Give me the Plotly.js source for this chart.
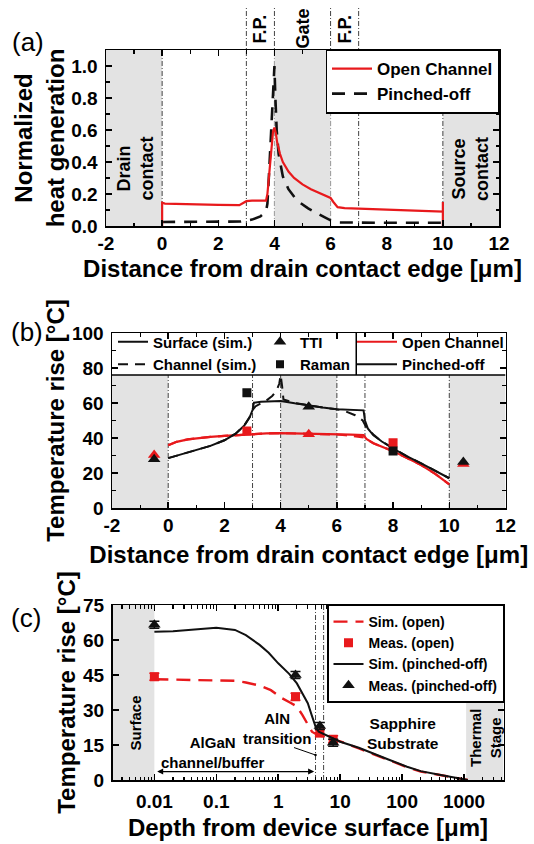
<!DOCTYPE html>
<html><head><meta charset="utf-8">
<script src="https://cdn.plot.ly/plotly-3.0.1.min.js"></script>
<style>html,body{margin:0;padding:0;background:#fff}</style>
</head><body><div id="chart" style="width:534px;height:844px"></div>
<script>
// ---------- Panel (a): normalized heat generation ----------
const a_open_x  = [0, 0, 0.1, 1, 2, 2.75, 3.0, 3.2, 3.7, 3.75, 3.8, 3.85, 3.9, 3.95, 4.0, 4.05, 4.1, 4.2, 4.3, 4.5, 4.7, 5.0, 5.3, 5.6, 5.9, 6.0, 6.1, 6.25, 6.5, 7, 8, 9, 10, 10, 10];
const a_open_y  = [0, 0.145, 0.14, 0.135, 0.132, 0.13, 0.155, 0.158, 0.158, 0.2, 0.3, 0.42, 0.52, 0.59, 0.615, 0.58, 0.52, 0.45, 0.4, 0.34, 0.3, 0.26, 0.23, 0.205, 0.185, 0.175, 0.15, 0.118, 0.112, 0.108, 0.102, 0.096, 0.09, 0.15, 0.0];
const a_pinch_x = [0, 1, 2, 2.8, 3.2, 3.5, 3.7, 3.75, 3.8, 3.85, 3.9, 3.95, 3.98, 4.0, 4.03, 4.08, 4.15, 4.3, 4.5, 4.8, 5.2, 5.6, 6.0, 6.3, 7, 8, 9, 10];
const a_pinch_y = [0.025, 0.025, 0.025, 0.028, 0.04, 0.06, 0.09, 0.14, 0.3, 0.5, 0.68, 0.86, 0.95, 1.0, 0.82, 0.6, 0.45, 0.31, 0.23, 0.16, 0.11, 0.07, 0.035, 0.022, 0.02, 0.02, 0.02, 0.02];

// ---------- Panel (b): temperature rise vs. distance ----------
const b_open_surf_x  = [0, 0.3, 0.7, 1, 1.5, 2, 2.5, 3, 3.5, 4, 4.5, 5, 5.5, 6, 6.5, 6.95, 7.05, 7.3, 7.6, 8, 8.5, 9, 9.5, 10];
const b_open_surf_y  = [35.8, 37.8, 39.2, 39.8, 40.6, 41.2, 41.7, 42.3, 42.6, 42.8, 42.7, 42.5, 42.3, 42.1, 41.9, 41.7, 39.5, 37, 35, 32.5, 28.5, 24.5, 19.5, 13.5];
const b_open_chan_x  = [0, 0.3, 0.7, 1, 1.5, 2, 2.5, 3, 3.5, 4, 4.5, 5, 5.5, 6, 6.3, 6.6, 6.95, 7.05, 7.3, 7.6, 8, 8.5, 9, 9.5, 10];
const b_open_chan_y  = [35.8, 37.8, 39.2, 39.8, 40.6, 41.2, 41.7, 42.3, 42.6, 42.8, 42.7, 42.5, 42.3, 42.0, 41.6, 41.0, 40.4, 39.3, 37, 35, 32.5, 28.5, 24.5, 19.5, 13.5];
const b_pin_surf_x   = [0, 0.5, 1, 1.5, 2, 2.4, 2.7, 2.9, 3.0, 3.05, 3.3, 3.6, 4, 4.5, 5, 5.5, 6, 6.5, 6.95, 7.0, 7.1, 7.3, 7.6, 8, 8.5, 9, 9.5, 10];
const b_pin_surf_y   = [28.5, 30.8, 33, 35.5, 38.7, 42.5, 47, 52, 56, 60.2, 60.7, 61, 61.2, 59.8, 58.5, 57.4, 56.5, 56, 55.8, 50, 45.5, 41.5, 38, 34, 29.5, 25.5, 21.3, 17];
const b_pin_chan_x   = [0, 0.5, 1, 1.5, 2, 2.4, 2.7, 2.9, 2.95, 3.1, 3.3, 3.5, 3.7, 3.85, 3.95, 4.0, 4.05, 4.1, 4.5, 5, 5.5, 6, 6.3, 6.65, 6.92, 7.05, 7.3, 7.6, 8, 8.5, 9, 9.5, 10];
const b_pin_chan_y   = [28.5, 30.8, 33, 35.5, 38.7, 42.5, 47, 52, 55, 58, 59.8, 61.5, 64, 67, 71, 76, 70, 62, 60, 58.5, 57.4, 56.4, 55.3, 53, 50, 46, 42, 38, 34, 29.5, 25.5, 21.3, 17];
const b_tti_x        = [-0.5, 5, 10.5];
const b_tti_open_y   = [30.3, 42.1, 25.1];
const b_tti_pin_y    = [27.8, 57.9, 26.3];
const b_raman_x      = [2.8, 8];
const b_raman_open_y = [44, 37.3];
const b_raman_pin_y  = [65.9, 32.6];
const b_raman_err    = [1.5, 1.5];

// ---------- Panel (c): temperature rise vs. depth ----------
const c_sim_open_x = [0.01, 0.03, 0.1, 0.2, 0.3, 0.5, 0.76, 1.16, 1.6, 2.0, 2.45, 3.0, 3.5, 4.3, 5.5, 10, 20, 35, 60, 120, 200, 420, 770, 1150];
const c_sim_open_y = [43.2, 43.0, 42.9, 42.5, 41.8, 40.5, 38.5, 35, 33, 31.5, 27.9, 24, 20.7, 19.3, 18.5, 16.6, 13.5, 11, 8.5, 5.5, 3.6, 2.0, 0.6, 0];
const c_sim_pin_x  = [0.01, 0.02, 0.05, 0.1, 0.2, 0.3, 0.5, 0.7, 1, 1.5, 2, 2.5, 3, 3.5, 4, 4.5, 5.5, 7, 10, 20, 35, 60, 120, 200, 420, 770, 1150];
const c_sim_pin_y  = [63.5, 63.8, 64.6, 65.2, 64.3, 62.1, 57.9, 54.5, 50, 45.5, 41.4, 37, 32.9, 27.5, 22.9, 20.7, 19.7, 18.3, 16.4, 13.8, 11.4, 8.8, 5.7, 3.8, 2.1, 0.7, 0];
const c_meas_x     = [0.01, 1.9, 4.7, 7.7];
const c_meas_open_y = [44.3, 35.7, 20.1, 17.5];
const c_meas_pin_y  = [66.5, 45.0, 23.1, 16.0];
const c_meas_err    = [1.5, 1.5, 1.5, 1.5];

// tick / label text
const distTickVals = [-2, 0, 2, 4, 6, 8, 10, 12];
const distTickText = ['-2', '0', '2', '4', '6', '8', '10', '12'];
const xTitleDist  = 'Distance from drain contact edge [μm]';
const xTitleDepth = 'Depth from device surface [μm]';
const yTitleHeat  = 'Normalized<br>heat generation';
const yTitleTemp  = 'Temperature rise [°C]';

// ---------- helpers ----------
const W = 534, H = 844;
const px = v => v / W;
const py = v => 1 - v / H;
const FONT = '"Liberation Sans", Arial, sans-serif';
const RED = '#e8191c', BLK = '#111111', GRAY = '#e3e3e3';

function axis(o) {
  const base = {
    showline: true, linecolor: '#000', linewidth: 1.5, mirror: 'ticks',
    ticks: 'inside', ticklen: 6, tickwidth: 1.5, tickcolor: '#000',
    showgrid: false, zeroline: false, fixedrange: true,
    tickfont: {family: FONT, size: 19, weight: 'bold', color: '#000'},
    ticklabelstandoff: 3
  };
  const out = Object.assign({}, base, o);
  out.title = Object.assign({font: {family: FONT, size: 24, weight: 'bold', color: '#000'}}, o.title || {});
  if (o.minor) out.minor = Object.assign({ticks: 'inside', ticklen: 3.5, tickwidth: 1.2, tickcolor: '#000'}, o.minor);
  return out;
}
function rect(xr, yr, x0, x1, y0, y1, fill) {
  return {type: 'rect', xref: xr, yref: yr, x0, x1, y0, y1, fillcolor: fill, layer: 'below', line: {width: 0}};
}
function vline(xr, yr, x, y0, y1) {
  return {type: 'line', xref: xr, yref: yr, x0: x, x1: x, y0, y1, layer: 'below',
          line: {color: '#444', width: 1, dash: '5px,2px,1px,2px'}};
}
// solid frame segment for the legend boxes of panel (b)
function seg(xr, yr, x0, y0, x1, y1) {
  return {type: 'line', xref: xr, yref: yr, x0, y0, x1, y1, layer: 'below', line: {color: '#000', width: 1.5}};
}
function txt(x, y, text, o) {
  return Object.assign({xref: 'paper', yref: 'paper', x: px(x), y: py(y), text, showarrow: false,
    xanchor: 'center', yanchor: 'middle',
    font: {family: FONT, size: 18, weight: 'bold', color: '#000'}}, o || {});
}

const traces = [];
// (a)
traces.push({x: a_pinch_x, y: a_pinch_y, xaxis: 'x', yaxis: 'y', mode: 'lines', name: 'Pinched-off',
  legend: 'legend', legendrank: 2, line: {color: BLK, width: 2.6, dash: '13px,9px'}});
traces.push({x: a_open_x, y: a_open_y, xaxis: 'x', yaxis: 'y', mode: 'lines', name: 'Open Channel',
  legend: 'legend', legendrank: 1, line: {color: RED, width: 2.2}});
// (b)
traces.push({x: b_open_surf_x, y: b_open_surf_y, xaxis: 'x2', yaxis: 'y2', mode: 'lines', name: 'Open Channel',
  legend: 'legend4', legendrank: 1, line: {color: RED, width: 2.2}});
traces.push({x: b_open_chan_x, y: b_open_chan_y, xaxis: 'x2', yaxis: 'y2', mode: 'lines', showlegend: false,
  line: {color: RED, width: 2.2, dash: '10px,7px'}});
traces.push({x: b_pin_surf_x, y: b_pin_surf_y, xaxis: 'x2', yaxis: 'y2', mode: 'lines', name: 'Pinched-off',
  legend: 'legend4', legendrank: 2, line: {color: BLK, width: 2}});
traces.push({x: b_pin_chan_x, y: b_pin_chan_y, xaxis: 'x2', yaxis: 'y2', mode: 'lines', showlegend: false,
  line: {color: BLK, width: 2, dash: '10px,7px'}});
traces.push({x: b_tti_x, y: b_tti_open_y, xaxis: 'x2', yaxis: 'y2', mode: 'markers', showlegend: false,
  marker: {symbol: 'triangle-up', size: 11, color: RED}});
traces.push({x: b_raman_x, y: b_raman_open_y, xaxis: 'x2', yaxis: 'y2', mode: 'markers', showlegend: false,
  marker: {symbol: 'square', size: 9, color: RED},
  error_y: {type: 'data', array: b_raman_err, color: RED, thickness: 1.5, width: 4}});
traces.push({x: b_tti_x, y: b_tti_pin_y, xaxis: 'x2', yaxis: 'y2', mode: 'markers', showlegend: false,
  marker: {symbol: 'triangle-up', size: 11, color: BLK}});
traces.push({x: b_raman_x, y: b_raman_pin_y, xaxis: 'x2', yaxis: 'y2', mode: 'markers', showlegend: false,
  marker: {symbol: 'square', size: 9, color: BLK},
  error_y: {type: 'data', array: b_raman_err, color: BLK, thickness: 1.5, width: 4}});
// (b) legend-only keys
traces.push({x: [null], y: [null], xaxis: 'x2', yaxis: 'y2', mode: 'lines', name: 'Surface (sim.)',
  legend: 'legend2', legendrank: 1, line: {color: BLK, width: 2}});
traces.push({x: [null], y: [null], xaxis: 'x2', yaxis: 'y2', mode: 'lines', name: 'Channel (sim.)',
  legend: 'legend2', legendrank: 2, line: {color: BLK, width: 2, dash: '10px,7px'}});
traces.push({x: [null], y: [null], xaxis: 'x2', yaxis: 'y2', mode: 'markers', name: 'TTI',
  legend: 'legend3', legendrank: 1, marker: {symbol: 'triangle-up', size: 11, color: BLK}});
traces.push({x: [null], y: [null], xaxis: 'x2', yaxis: 'y2', mode: 'markers', name: 'Raman',
  legend: 'legend3', legendrank: 2, marker: {symbol: 'square', size: 8, color: BLK}});
// (c)
traces.push({x: c_sim_open_x, y: c_sim_open_y, xaxis: 'x3', yaxis: 'y3', mode: 'lines', name: 'Sim. (open)',
  legend: 'legend5', line: {color: RED, width: 2.4, dash: '14px,8px'}});
traces.push({x: c_meas_x, y: c_meas_open_y, xaxis: 'x3', yaxis: 'y3', mode: 'markers', name: 'Meas. (open)',
  legend: 'legend5', marker: {symbol: 'square', size: 9, color: RED},
  error_y: {type: 'data', array: c_meas_err, color: RED, thickness: 1.5, width: 5}});
traces.push({x: c_sim_pin_x, y: c_sim_pin_y, xaxis: 'x3', yaxis: 'y3', mode: 'lines', name: 'Sim. (pinched-off)',
  legend: 'legend5', line: {color: BLK, width: 2}});
traces.push({x: c_meas_x, y: c_meas_pin_y, xaxis: 'x3', yaxis: 'y3', mode: 'markers', name: 'Meas. (pinched-off)',
  legend: 'legend5', marker: {symbol: 'triangle-up', size: 11, color: BLK},
  error_y: {type: 'data', array: c_meas_err, color: BLK, thickness: 1.5, width: 5}});

const cLeft = Math.pow(10, -2.676), cRight = Math.pow(10, 3.637);
// panel (b) legend frame: bottom edge and the split between its two boxes (data units)
const bBoxY = 76, bBoxSplit = 6.69;

const shapes = [
  // (a) shaded contact/gate regions and guide lines (the legend box covers its own corner)
  rect('x', 'y', -2, 0, 0, 1.1, GRAY), rect('x', 'y', 4, 6, 0, 1.1, GRAY), rect('x', 'y', 10, 12, 0, 1.1, GRAY),
  vline('x', 'y', 0, 0, 1.1), vline('x', 'y', 10, 0, 1.1),
  vline('x', 'paper', 3, py(226), py(6)), vline('x', 'paper', 4, py(226), py(6)),
  vline('x', 'paper', 6, py(226), py(6)), vline('x', 'paper', 7, py(226), py(6)),
  // (b)
  rect('x2', 'y2', -2, 0, 0, bBoxY, GRAY), rect('x2', 'y2', 4, 6, 0, bBoxY, GRAY), rect('x2', 'y2', 10, 12, 0, bBoxY, GRAY),
  vline('x2', 'y2', 0, 0, bBoxY), vline('x2', 'y2', 3, 0, bBoxY), vline('x2', 'y2', 4, 0, bBoxY),
  vline('x2', 'y2', 6, 0, bBoxY), vline('x2', 'y2', 7, 0, bBoxY), vline('x2', 'y2', 10, 0, bBoxY),
  seg('x2', 'y2', -2, bBoxY, 12, bBoxY), seg('x2', 'y2', bBoxSplit, bBoxY, bBoxSplit, 100),
  // (c)
  rect('x3', 'y3', cLeft, 0.01, 0, 75, GRAY), rect('x3', 'y3', 1080, cRight, 0, 75, GRAY),
  vline('x3', 'y3', 4, 0, 75), vline('x3', 'y3', 5.4, 0, 75)
];

const annotations = [
  txt(28, 42, '(a)', {font: {family: FONT, size: 26, color: '#000'}}),
  txt(27, 332, '(b)', {font: {family: FONT, size: 26, color: '#000'}}),
  txt(26, 618, '(c)', {font: {family: FONT, size: 26, color: '#000'}}),
  // (a) region labels
  txt(134.5, 169, 'Drain<br>contact', {textangle: -90}),
  txt(470, 169, 'Source<br>contact', {textangle: -90}),
  Object.assign(txt(0, 29, 'F.P.', {textangle: -90}), {xref: 'x', x: 3.5}),
  Object.assign(txt(0, 29, 'Gate', {textangle: -90}), {xref: 'x', x: 5.0}),
  Object.assign(txt(0, 29, 'F.P.', {textangle: -90}), {xref: 'x', x: 6.5}),
  // (c) region labels
  txt(134.5, 723, 'Surface', {textangle: -90, font: {family: FONT, size: 15, weight: 'bold', color: '#000'}}),
  txt(213, 752.7, 'AlGaN<br>channel/buffer', {font: {family: FONT, size: 15, weight: 'bold', color: '#000'}}),
  txt(277, 728.5, 'AlN<br>transition', {font: {family: FONT, size: 15, weight: 'bold', color: '#000'}}),
  txt(403, 733, 'Sapphire<br>Substrate', {font: {family: FONT, size: 15.5, weight: 'bold', color: '#000'}}),
  txt(485, 738, 'Thermal<br>Stage', {textangle: -90, font: {family: FONT, size: 15, weight: 'bold', color: '#000'}}),
  // double arrow across AlGaN layer
  {xref: 'x3', yref: 'y3', axref: 'x3', ayref: 'y3', x: Math.log10(3.8), y: 3.6, ax: Math.log10(0.0105), ay: 3.6,
   text: '', showarrow: true, arrowside: 'end+start', arrowhead: 2, arrowsize: 1, arrowwidth: 1.2, arrowcolor: '#000'},
  // pointer from "transition" to the AlN layer
  {xref: 'x3', yref: 'y3', x: Math.log10(4), y: 10.7, ax: -23, ay: -8, text: '', showarrow: true,
   arrowhead: 6, arrowsize: 0.6, arrowwidth: 1, arrowcolor: '#000', standoff: 0}
];

const clearLegend = {bgcolor: 'rgba(0,0,0,0)', borderwidth: 0, xanchor: 'left', yanchor: 'middle',
  traceorder: 'normal', orientation: 'v'};
const boxedLegend = {bgcolor: '#ffffff', bordercolor: '#000000', borderwidth: 1.5, xanchor: 'right', yanchor: 'top',
  traceorder: 'normal', orientation: 'v'};
const layout = {
  width: W, height: H, margin: {l: 0, r: 0, t: 0, b: 0},
  paper_bgcolor: '#fff', plot_bgcolor: '#fff', showlegend: true,
  font: {family: FONT, color: '#000'},
  xaxis: axis({domain: [px(106), px(499)], anchor: 'y', range: [-2, 12], tickmode: 'array',
    tickvals: distTickVals, ticktext: distTickText,
    minor: {tickmode: 'linear', tick0: 0, dtick: 1}, ticklabelstandoff: 0, title: {text: xTitleDist, standoff: 7}}),
  yaxis: axis({domain: [py(226), py(50)], anchor: 'x', range: [0, 1.1], tick0: 0, dtick: 0.2, tickformat: '.1f',
    minor: {dtick: 0.1}, title: {text: yTitleHeat, standoff: 0}}),
  xaxis2: axis({domain: [px(112), px(505.5)], anchor: 'y2', range: [-2, 12], tickmode: 'array',
    tickvals: distTickVals, ticktext: distTickText,
    minor: {tickmode: 'linear', tick0: 0, dtick: 1}, ticklabelstandoff: 0, title: {text: xTitleDist, standoff: 11}}),
  yaxis2: axis({domain: [py(508), py(333)], anchor: 'x2', range: [0, 100], tick0: 0, dtick: 20,
    minor: {dtick: 10}, title: {text: yTitleTemp, standoff: 0}}),
  xaxis3: axis({domain: [px(112.5), px(503.5)], anchor: 'y3', type: 'log', range: [-2.676, 3.637], tick0: 0, dtick: 1,
    minor: {dtick: 'D1'}, ticklabelstandoff: 4, title: {text: xTitleDepth, standoff: 8}}),
  yaxis3: axis({domain: [py(780), py(605)], anchor: 'x3', range: [0, 75], tick0: 0, dtick: 15,
    title: {text: yTitleTemp, standoff: 0}}),
  shapes, annotations,
  legend:  Object.assign({}, boxedLegend, {x: px(499.5), y: py(49.5), itemwidth: 40,
    font: {family: FONT, size: 17, weight: 'bold', color: '#000'}}),
  legend2: Object.assign({}, clearLegend, {x: px(113), y: py(353), itemwidth: 30,
    font: {family: FONT, size: 15, weight: 'bold', color: '#000'}}),
  legend3: Object.assign({}, clearLegend, {x: px(260), y: py(353), itemwidth: 30,
    font: {family: FONT, size: 15, weight: 'bold', color: '#000'}}),
  legend4: Object.assign({}, clearLegend, {x: px(352), y: py(353), itemwidth: 40,
    font: {family: FONT, size: 15, weight: 'bold', color: '#000'}}),
  legend5: Object.assign({}, boxedLegend, {x: px(504), y: py(604.5), itemwidth: 30,
    font: {family: FONT, size: 14, weight: 'bold', color: '#000'}})
};

Plotly.newPlot('chart', traces, layout, {displayModeBar: false, staticPlot: true});
</script>
</body></html>
